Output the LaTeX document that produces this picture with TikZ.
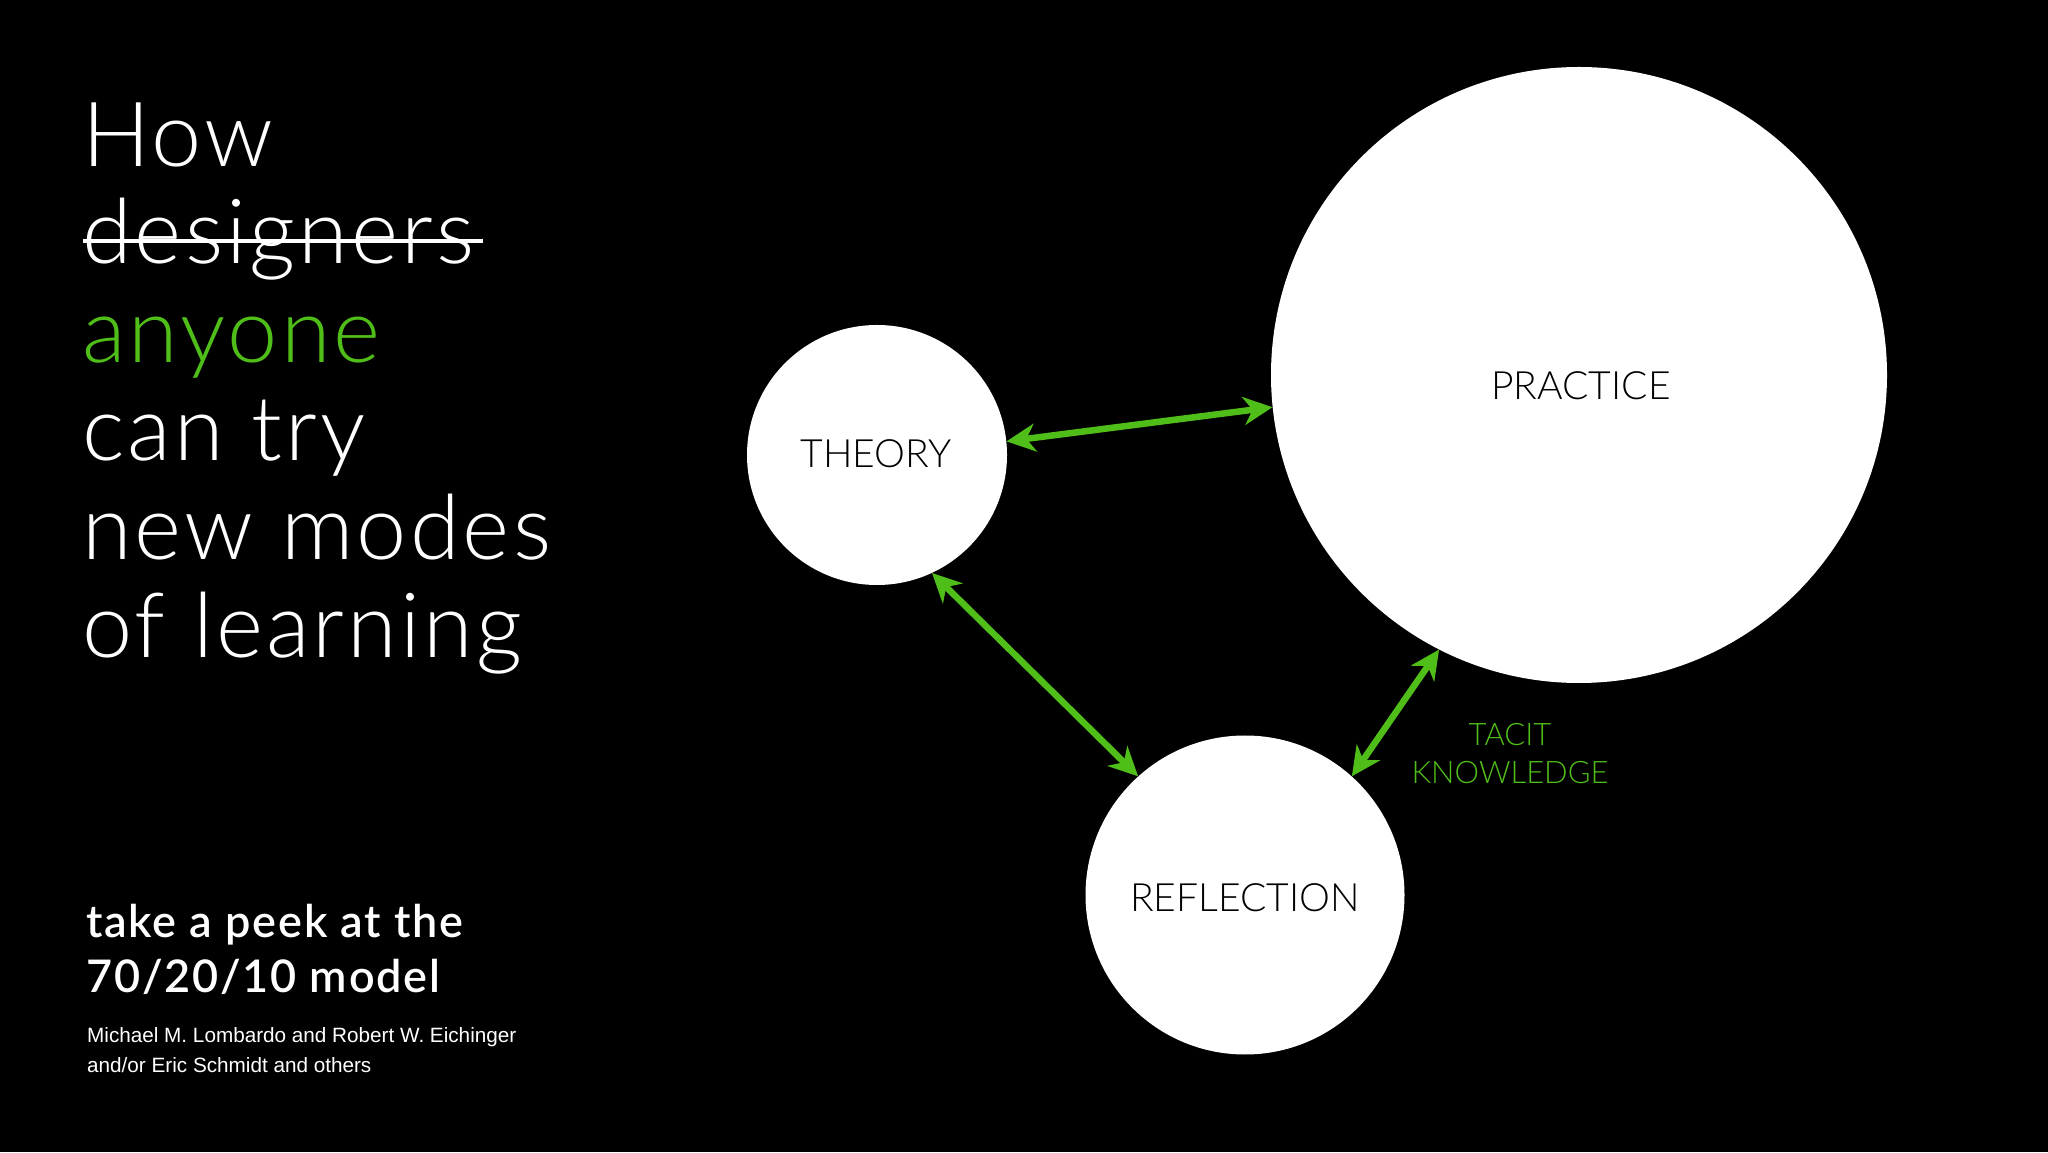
\documentclass[tikz,border=0pt]{standalone}
\usepackage{fontspec}
\usetikzlibrary{arrows.meta}
\setmainfont{Lato}
\IfFontExistsTF{Lato Light}{\newfontfamily\lightfont{Lato Light}}{\newfontfamily\lightfont{Lato}}
\IfFontExistsTF{Lato Semibold}{\newfontfamily\boldfont{Lato Semibold}[LetterSpace=4]}{\newfontfamily\boldfont{Lato Bold}[LetterSpace=3]}
\IfFontExistsTF{Lato Light}{\newfontfamily\titlefont{Lato Light}[LetterSpace=3.5]}{\newfontfamily\titlefont{Lato}[LetterSpace=3.5]}
\newfontfamily\arialfont{Liberation Sans}
\definecolor{tgreen}{RGB}{80,190,25}
\tikzset{
  bubble/.style={circle, fill=white, inner sep=0pt, draw=none},
  bubtext/.style={font=\lightfont\fontsize{39}{39}\selectfont, text=black, inner sep=0pt},
  title/.style={font=\titlefont\fontsize{90}{90}\selectfont, text=white, anchor=base west, inner sep=0pt},
  sub/.style={font=\boldfont\fontsize{45}{45}\selectfont, text=white, anchor=base west, inner sep=0pt},
  cite/.style={font=\arialfont\fontsize{20.7}{20.7}\selectfont, text=white, anchor=base west, inner sep=0pt},
  link/.style={tgreen, line width=6.5pt,
    {Stealth[length=29pt,width=28pt,inset=9pt]}-{Stealth[length=29pt,width=28pt,inset=9pt]}},
}
\begin{document}
\begin{tikzpicture}[x=1pt,y=1pt]
\fill[black] (0,0) rectangle (2048,1152);
\useasboundingbox (0,0) rectangle (2048,1152);
% title
\node[title] (l1) at (82,985) {How};
\node[title] (l2) at (82,888) {designers};
\node[title, text=tgreen] (l3) at (82,789) {anyone};
\node[title] (l4) at (82,691) {can try};
\node[title] (l5) at (82,592) {new modes};
\node[title] (l6) at (82,494) {of learning};
\coordinate (s1) at (83,911);
\coordinate (s2) at (483,911);
\draw[white, line width=4.5pt] (s1) -- (s2);
% subtitle
\node[sub] (m1) at (86,215) {take a peek at the};
\node[sub] (m2) at (86,160) {70/20/10 model};
\node[cite] (c1) at (87,110) {Michael M. Lombardo and Robert W. Eichinger};
\node[cite] (c2) at (87,80) {and/or Eric Schmidt and others};
% circles
\node[bubble, minimum size=260pt] (theory) at (877,697) {};
\node[bubble, minimum size=616pt] (practice) at (1579,777) {};
\node[bubble, minimum size=319pt] (reflection) at (1245,257) {};
\node[bubtext] (tl) at (876,698) {THEORY};
\node[bubtext] (pl) at (1581,766) {PRACTICE};
\node[bubtext] (rl) at (1245,254) {REFLECTION};
% tacit
\node[font=\lightfont\fontsize{31}{38}\selectfont, text=tgreen, align=center, inner sep=0pt] (tacit) at (1510,398) {TACIT\\KNOWLEDGE};
% arrows
\draw[link] (theory.6) -- (practice.186);
\draw[link] (theory.295) -- (reflection.132.5);
\draw[link] (reflection.48) -- (practice.243);
\end{tikzpicture}
\end{document}
